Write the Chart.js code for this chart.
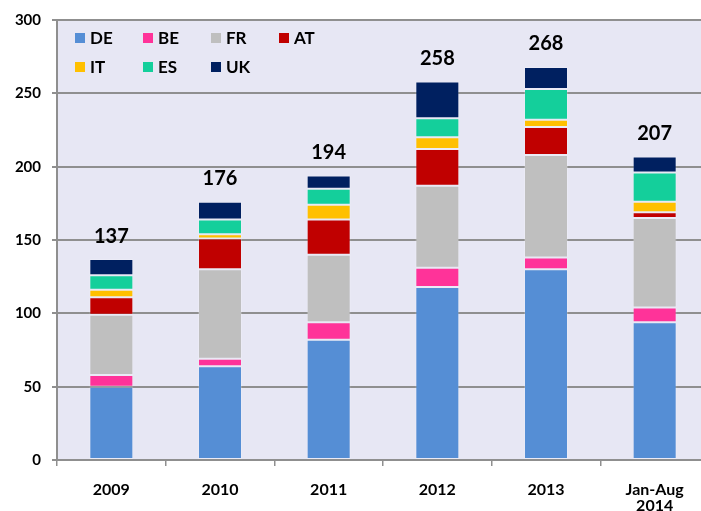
<!DOCTYPE html>
<html>
<head>
<meta charset="utf-8">
<script src="https://cdn.jsdelivr.net/npm/chart.js@4.4.1/dist/chart.umd.min.js"></script>
<style>
  html, body { margin: 0; padding: 0; background: #fff; overflow: hidden; }
  #wrap { width: 712px; height: 511px; position: relative; }
</style>
</head>
<body>
<div id="wrap"><canvas id="chart"></canvas></div>
<script>
const years = [['2009'], ['2010'], ['2011'], ['2012'], ['2013'], ['Jan-Aug', '2014']];
const countries = ['DE', 'BE', 'FR', 'AT', 'IT', 'ES', 'UK'];
const colours = ['#558ED5', '#FF3399', '#BFBFBF', '#C00000', '#FFC000', '#14CF9B', '#002060'];

const de = [50, 64, 82, 118, 130, 94];
const be = [8, 5, 12, 13, 8, 10];
const fr = [41, 61, 46, 56, 70, 61];
const at = [12, 21, 24, 25, 19, 4];
const it = [5, 3, 10, 8, 5, 7];
const es = [10, 10, 11, 13, 21, 20];
const uk = [11, 12, 9, 25, 15, 11];
const totals = [137, 176, 194, 258, 268, 207];

const yTicks = [0, 50, 100, 150, 200, 250, 300];

const seriesData = [de, be, fr, at, it, es, uk];
const font = 'Lato';
const gridCol = '#8F8F8F';

// fond lavande de la zone de tracé
const plotBg = {
  id: 'plotBg',
  beforeDraw(chart) {
    const a = chart.chartArea, c = chart.ctx;
    c.save();
    c.fillStyle = '#E7E7F4';
    c.fillRect(a.left, a.top, a.right - a.left, a.bottom - a.top);
    c.restore();
  }
};

// totaux au-dessus des barres
const totalLabels = {
  id: 'totalLabels',
  afterDatasetsDraw(chart) {
    const c = chart.ctx;
    const meta = chart.getDatasetMeta(chart.data.datasets.length - 1);
    c.save();
    c.font = 'bold 20px ' + font;
    c.fillStyle = '#000';
    c.textAlign = 'center';
    c.textBaseline = 'middle';
    meta.data.forEach((bar, i) => {
      c.fillText(String(totals[i]), bar.x, bar.y - 23);
    });
    c.restore();
  }
};

// légende en grille 4 colonnes
const gridLegend = {
  id: 'gridLegend',
  afterDraw(chart) {
    const c = chart.ctx;
    c.save();
    c.font = 'bold 17px ' + font;
    c.textBaseline = 'middle';
    chart.data.datasets.forEach((ds, i) => {
      const col = i % 4, row = Math.floor(i / 4);
      const x = 75 + col * 68, y = 38 + row * 29;
      c.fillStyle = ds.backgroundColor;
      c.fillRect(x, y - 5, 10, 10);
      c.fillStyle = '#000';
      c.fillText(ds.label, x + 15, y + 1);
    });
    c.restore();
  }
};

const datasets = countries.map((name, i) => ({
  label: name,
  data: seriesData[i],
  backgroundColor: colours[i],
  borderColor: 'rgba(255,255,255,0.2)',
  borderWidth: 1,
  borderSkipped: false,
  barPercentage: 0.405,
  categoryPercentage: 1
}));

new Chart(document.getElementById('chart'), {
  type: 'bar',
  data: { labels: years, datasets: datasets },
  options: {
    responsive: true,
    maintainAspectRatio: false,
    animation: false,
    layout: { padding: { top: 19, right: 3, left: 0, bottom: 0 } },
    plugins: {
      legend: { display: false },
      tooltip: { enabled: false }
    },
    scales: {
      x: {
        stacked: true,
        afterFit(s) { s.height = 51; },
        grid: { offset: true, drawOnChartArea: false, color: gridCol, lineWidth: 1.5, tickLength: 6 },
        border: { color: gridCol, width: 2 },
        ticks: { color: '#000', padding: 15, font: { family: font, weight: 'bold', size: 16, lineHeight: 1.05 } }
      },
      y: {
        stacked: true,
        min: 0,
        max: 300,
        afterFit(s) { s.width = 57; },
        afterBuildTicks(s) { s.ticks = yTicks.map(v => ({ value: v })); },
        grid: { color: gridCol, lineWidth: 2, tickLength: 5 },
        border: { color: gridCol, width: 2 },
        ticks: { color: '#000', padding: 11, font: { family: font, weight: 'bold', size: 15 } }
      }
    }
  },
  plugins: [plotBg, totalLabels, gridLegend]
});
</script>
</body>
</html>
